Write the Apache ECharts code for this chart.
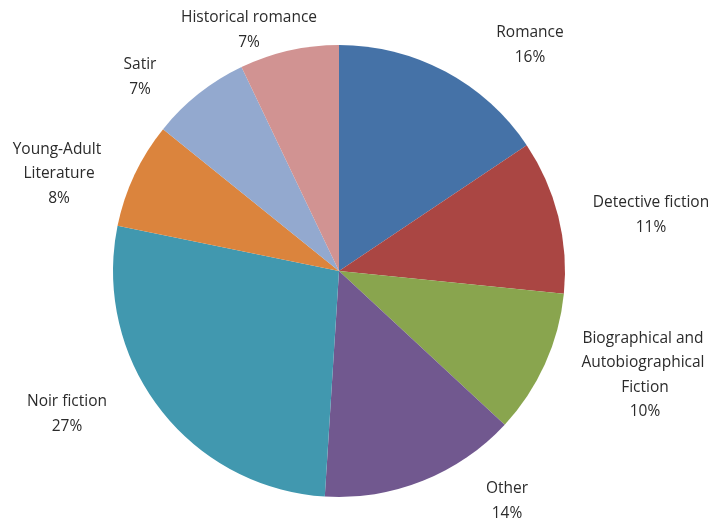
<!DOCTYPE html>
<html>
<head>
<meta charset="utf-8">
<script src="https://cdn.jsdelivr.net/npm/echarts@6/dist/echarts.min.js"></script>
<style>
  html, body { margin: 0; padding: 0; background: #ffffff; }
  #chart { width: 721px; height: 523px; }
</style>
</head>
<body>
<div id="chart"></div>
<script>
// ---- data ----
var categories = [
  'Romance',
  'Detective fiction',
  'Biographical and Autobiographical Fiction',
  'Other',
  'Noir fiction',
  'Young-Adult Literature',
  'Satir',
  'Historical romance'
];
var shares = [15.6, 11.0, 10.3, 14.1, 27.2, 7.6, 7.1, 7.1];

// ---- styles ----
var colors = ['#4572A7', '#AA4643', '#89A54E', '#71588F', '#4198AF', '#DB843D', '#93A9CF', '#D19392'];
var labelWidths = { 'Biographical and Autobiographical Fiction': 160, 'Young-Adult Literature': 110 };
// label centres (layout of the text boxes around the pie)
var labelCentres = [[530, 45], [651, 215], [645, 375], [507, 501], [67, 414], [59, 174], [140, 77], [249, 30]];

var chart = echarts.init(document.getElementById('chart'), null, { renderer: 'canvas' });

var seriesData = categories.map(function (name, i) {
  var item = { name: name, value: shares[i], itemStyle: { color: colors[i] } };
  if (labelWidths[name]) {
    item.label = { width: labelWidths[name], overflow: 'break' };
  }
  return item;
});

chart.setOption({
  animation: false,
  backgroundColor: '#ffffff',
  series: [{
    type: 'pie',
    center: [339, 271],
    radius: 226,
    startAngle: 90,
    clockwise: true,
    avoidLabelOverlap: false,
    itemStyle: { borderWidth: 0 },
    emphasis: { disabled: true },
    label: {
      show: true,
      position: 'outside',
      fontFamily: '"Open Sans", "Liberation Sans", Arial, sans-serif',
      fontSize: 15.5,
      lineHeight: 24.5,
      color: '#2b2b2b',
      align: 'center',
      formatter: function (p) {
        return p.name + '\n' + Math.round(p.percent) + '%';
      }
    },
    labelLine: { show: false },
    labelLayout: function (params) {
      var c = labelCentres[params.dataIndex];
      return { x: c[0], y: c[1], align: 'center', verticalAlign: 'middle' };
    },
    data: seriesData
  }]
});
</script>
</body>
</html>
